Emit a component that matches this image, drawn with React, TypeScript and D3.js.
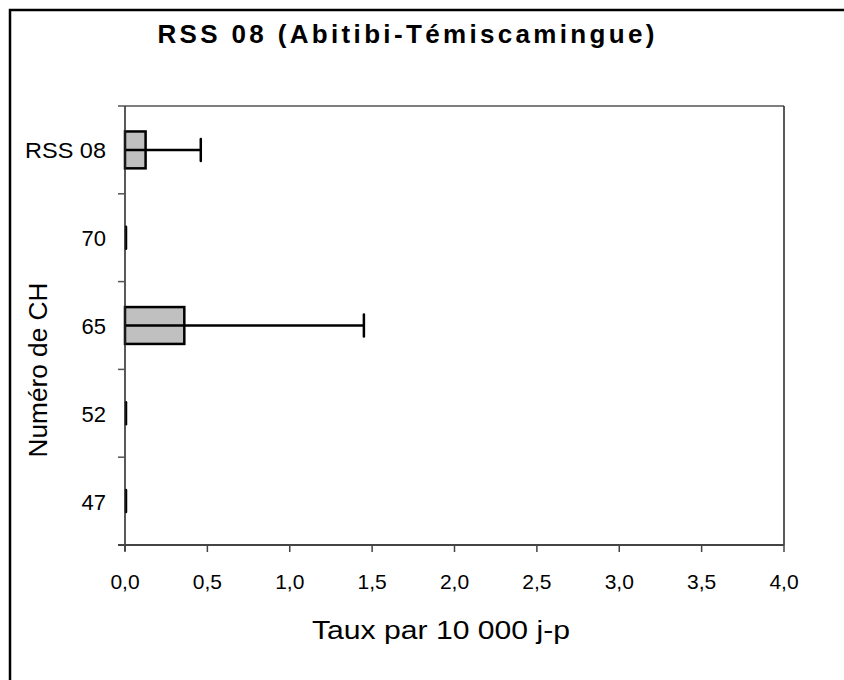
import React from "react";
import * as d3 from "d3";

const categories = ["RSS 08", "70", "65", "52", "47"];
const values = [0.125, 0, 0.36, 0, 0];
const upperErrors = [0.46, 0, 1.45, 0, 0];
const xTicks = [0, 0.5, 1, 1.5, 2, 2.5, 3, 3.5, 4];
const title = "RSS 08 (Abitibi-Témiscamingue)";
const xTitle = "Taux par 10 000 j-p";
const yTitle = "Numéro de CH";

const W = 844;
const H = 680;
const left = 125;
const right = 784;
const top = 106;
const bottom = 545;

export default function App() {
  const x = d3.scaleLinear().domain([0, 4]).range([left, right]);
  const y = d3.scaleBand<string>().domain(categories).range([top, bottom]).paddingInner(0.58).paddingOuter(0.29);
  const band = d3.scaleBand<string>().domain(categories).range([top, bottom]);
  const fmt = (v: number) => d3.format(".1f")(v).replace(".", ",");
  const capH = 22;
  const font = "Arial, 'Liberation Sans', sans-serif";
  return (
    <div style={{ position: "absolute", left: 0, top: 0 }}>
      <svg width={W} height={H} style={{ display: "block", background: "#fff" }}>
        <rect x={10} y={10} width={W + 10} height={H + 10} fill="#fff" stroke="#000" strokeWidth={2.5} />
        <text x={406} y={43} textAnchor="middle" fontFamily={font} fontWeight="bold" fontSize={26} textLength={497} lengthAdjust="spacing">{title}</text>
        {/* plot frame top/right */}
        <line x1={left} x2={right} y1={top} y2={top} stroke="#555" strokeWidth={1.5} />
        <line x1={right} x2={right} y1={top} y2={bottom} stroke="#222" strokeWidth={1.5} />
        {/* bars */}
        {categories.map((c, i) => {
          const cy = (band(c) as number) + band.bandwidth() / 2;
          const by = y(c) as number;
          const bh = y.bandwidth();
          return (
            <g key={c}>
              {values[i] > 0 && (
                <rect x={x(0)} y={by} width={x(values[i]) - x(0)} height={bh} fill="#c0c0c0" stroke="#000" strokeWidth={2.5} />
              )}
              {upperErrors[i] > 0 && (
                <line x1={x(0)} x2={x(upperErrors[i])} y1={cy} y2={cy} stroke="#000" strokeWidth={2.5} />
              )}
              <line x1={x(upperErrors[i]) + (upperErrors[i] > 0 ? 0 : 1)} x2={x(upperErrors[i]) + (upperErrors[i] > 0 ? 0 : 1)} y1={cy - capH / 2} y2={cy + capH / 2} stroke="#000" strokeWidth={2.5} strokeLinecap="round" />
              <text x={106} y={cy + 8.5} textAnchor="end" fontFamily={font} fontSize={22}
                {...(c.length > 3 ? { textLength: 81, lengthAdjust: "spacingAndGlyphs" } : {})}>{c}</text>
            </g>
          );
        })}
        {/* axes */}
        <line x1={left} x2={left} y1={top} y2={bottom + 6} stroke="#222" strokeWidth={1.5} />
        <line x1={left - 7} x2={right} y1={bottom} y2={bottom} stroke="#444" strokeWidth={2} />
        {categories.slice(1).map((c) => (
          <line key={"t" + c} x1={left - 7} x2={left} y1={band(c) as number} y2={band(c) as number} stroke="#555" strokeWidth={1.5} />
        ))}
        <line x1={left - 7} x2={left} y1={top} y2={top} stroke="#555" strokeWidth={1.5} />
        {xTicks.map((t) => (
          <g key={t}>
            <line x1={x(t)} x2={x(t)} y1={bottom} y2={bottom + 7} stroke="#444" strokeWidth={1.5} />
            <text x={x(t)} y={589} textAnchor="middle" fontFamily={font} fontSize={21}>{fmt(t)}</text>
          </g>
        ))}
        <text x={441} y={639} textAnchor="middle" fontFamily={font} fontSize={26} textLength={258} lengthAdjust="spacingAndGlyphs">{xTitle}</text>
        <text transform={`translate(47,${370}) rotate(-90)`} textAnchor="middle" fontFamily={font} fontSize={25} textLength={175} lengthAdjust="spacingAndGlyphs">{yTitle}</text>
      </svg>
    </div>
  );
}
